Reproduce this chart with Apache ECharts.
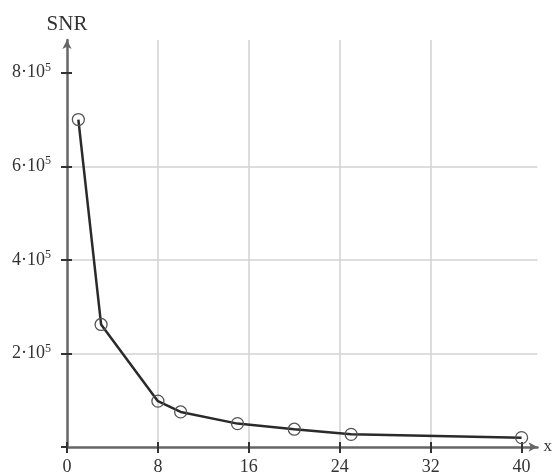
<!DOCTYPE html>
<html><head><meta charset="utf-8">
<script src="https://cdn.jsdelivr.net/npm/echarts@6/dist/echarts.min.js"></script>
<style>html,body{margin:0;padding:0;background:#fff}#c{width:555px;height:476px}</style>
</head><body><div id="c"></div>
<script>
const xValues = [1, 3, 8, 10, 15, 20, 25, 40];
const snrValues = [700000, 262000, 98000, 75000, 50000, 38000, 27000, 20000];
const xTicks = [0, 8, 16, 24, 32, 40];
const yTicks = [0, 200000, 400000, 600000, 800000];
const yTickMantissa = {200000: '2', 400000: '4', 600000: '6', 800000: '8'};

const chart = echarts.init(document.getElementById('c'));
const font = '"Liberation Serif", "DejaVu Serif", serif';
const txt = '#333';
const gridStyle = {color: '#d2d2d2', width: 1.5};
const tickStyle = {color: '#333', width: 2};
const axisLineStyle = {color: '#666', width: 2.5};

chart.setOption({
  animation: false,
  backgroundColor: '#fff',
  grid: {left: 67, right: 10, top: 40, bottom: 22, containLabel: false},
  xAxis: [{
    type: 'value', min: 0, max: 41.4, interval: 8,
    name: 'x', nameLocation: 'end', nameGap: 6,
    nameTextStyle: {fontFamily: font, fontSize: 17, color: txt, verticalAlign: 'middle'},
    axisLine: {show: true, onZero: false, symbol: ['none', 'arrow'], symbolSize: [7, 9], lineStyle: axisLineStyle},
    axisTick: {show: true, length: 6, customValues: xTicks, lineStyle: tickStyle},
    axisLabel: {fontFamily: font, fontSize: 18, color: txt, margin: 11, customValues: xTicks},
    splitLine: {show: true, showMinLine: false, showMaxLine: false, lineStyle: gridStyle}
  }, {
    type: 'value', min: 0, max: 41.4, interval: 8, position: 'bottom',
    axisLine: {show: false}, axisLabel: {show: false}, splitLine: {show: false},
    axisTick: {show: true, inside: true, length: 5, customValues: xTicks, lineStyle: tickStyle}
  }],
  yAxis: [{
    type: 'value', min: 0, max: 870000, interval: 200000,
    name: 'SNR', nameLocation: 'end', nameGap: 5,
    nameTextStyle: {fontFamily: font, fontSize: 21, color: txt, align: 'center'},
    axisLine: {show: true, onZero: false, symbol: ['none', 'arrow'], symbolSize: [7, 9], lineStyle: axisLineStyle},
    axisTick: {show: true, length: 6, customValues: yTicks, lineStyle: tickStyle},
    axisLabel: {
      fontFamily: font, fontSize: 18, color: txt, margin: 16,
      customValues: yTicks.slice(1),
      formatter: v => yTickMantissa[v] ? '{m|' + yTickMantissa[v] + '·10}{s|5}' : '',
      rich: {
        m: {fontFamily: font, fontSize: 18, color: txt},
        s: {fontFamily: font, fontSize: 12, color: txt, verticalAlign: 'top', padding: [0, 0, 10, 0]}
      }
    },
    splitLine: {show: true, showMinLine: false, showMaxLine: false, lineStyle: gridStyle}
  }, {
    type: 'value', min: 0, max: 870000, interval: 200000, position: 'left',
    axisLine: {show: false}, axisLabel: {show: false}, splitLine: {show: false},
    axisTick: {show: true, inside: true, length: 5, customValues: yTicks.slice(1), lineStyle: tickStyle}
  }],
  series: [{
    type: 'line',
    data: xValues.map((x, i) => [x, snrValues[i]]),
    symbol: 'circle', symbolSize: 12,
    lineStyle: {color: '#2a2a2a', width: 2.5},
    itemStyle: {color: 'rgba(0,0,0,0)', borderColor: '#555', borderWidth: 1.3},
    z: 5
  }]
});
</script></body></html>
